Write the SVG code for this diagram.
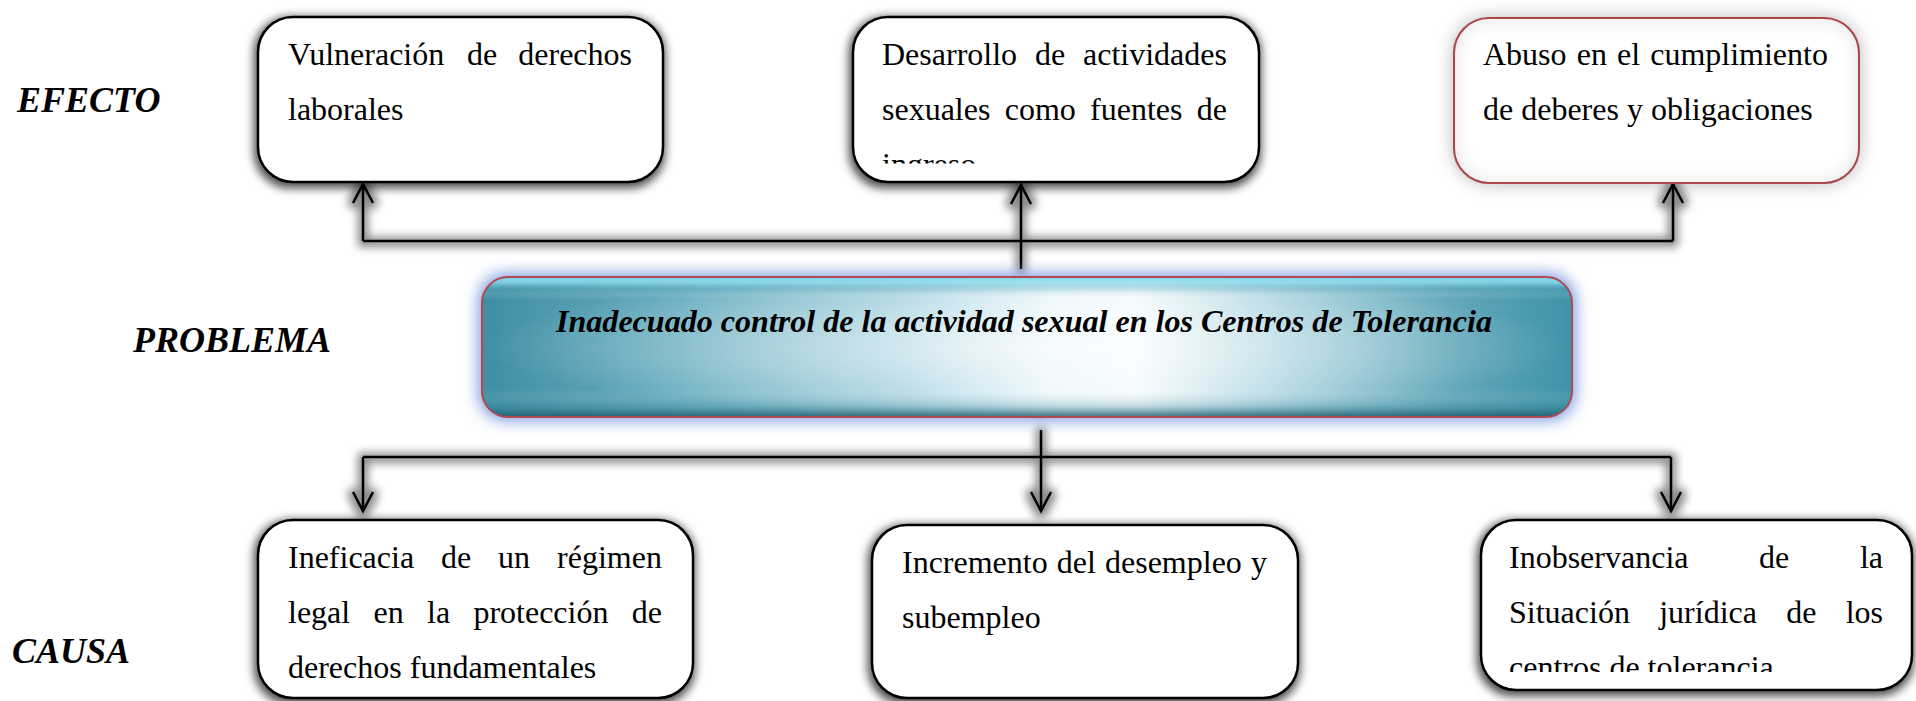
<svg xmlns="http://www.w3.org/2000/svg" width="1916" height="701" viewBox="0 0 1916 701">
<defs>
<style>
.lbl{font-family:"Liberation Serif","Times New Roman",serif;font-weight:bold;font-style:italic;font-size:36px;fill:#000}
.txt{font-family:"Liberation Serif","Times New Roman",serif;font-size:32px;fill:#000}
.ptxt{font-family:"Liberation Serif","Times New Roman",serif;font-weight:bold;font-style:italic;font-size:32px;fill:#000}
.box{fill:#fff;stroke:#000;stroke-width:2.5}
.conn{fill:none;stroke:#000;stroke-width:2.5}
</style>
<filter id="sh" x="-20%" y="-30%" width="140%" height="160%">
<feMorphology in="SourceAlpha" operator="dilate" radius="2" result="d"/>
<feGaussianBlur in="d" stdDeviation="5" result="b"/>
<feOffset in="b" dx="-1" dy="3" result="o"/>
<feFlood flood-color="#000" flood-opacity="0.7"/>
<feComposite in2="o" operator="in" result="s"/>
<feMerge><feMergeNode in="s"/><feMergeNode in="SourceGraphic"/></feMerge>
</filter>
<filter id="lsh" x="-20%" y="-20%" width="140%" height="140%">
<feMorphology in="SourceAlpha" operator="dilate" radius="4" result="d"/>
<feGaussianBlur in="d" stdDeviation="4" result="b"/>
<feOffset in="b" dx="0" dy="1" result="o"/>
<feFlood flood-color="#000" flood-opacity="0.45"/>
<feComposite in2="o" operator="in" result="s"/>
<feMerge><feMergeNode in="s"/><feMergeNode in="SourceGraphic"/></feMerge>
</filter>
<filter id="soft" x="-20%" y="-30%" width="140%" height="160%">
<feDropShadow dx="0" dy="0" stdDeviation="9" flood-color="#000" flood-opacity="0.3"/>
</filter>
<filter id="inner" x="-5%" y="-5%" width="110%" height="110%">
<feFlood flood-color="#000" flood-opacity="0.3" result="f"/>
<feComposite in="f" in2="SourceAlpha" operator="out" result="o"/>
<feGaussianBlur in="o" stdDeviation="9" result="b"/>
<feComposite in="b" in2="SourceAlpha" operator="in" result="i"/>
<feMerge><feMergeNode in="SourceGraphic"/><feMergeNode in="i"/></feMerge>
</filter>
<filter id="glow" x="-5%" y="-30%" width="110%" height="160%">
<feMorphology in="SourceAlpha" operator="dilate" radius="3" result="d"/>
<feGaussianBlur in="d" stdDeviation="8" result="b"/>
<feFlood flood-color="#7595dc" flood-opacity="1"/>
<feComposite in2="b" operator="in" result="g"/>
<feMerge><feMergeNode in="g"/><feMergeNode in="SourceGraphic"/></feMerge>
</filter>
<linearGradient id="ph" x1="0" y1="0" x2="1" y2="0">
<stop offset="0" stop-color="#3f8ea4"/>
<stop offset="0.18" stop-color="#6aaec0"/>
<stop offset="0.38" stop-color="#a9d3df"/>
<stop offset="0.52" stop-color="#eaf7fb"/>
<stop offset="0.6" stop-color="#f4fbfe"/>
<stop offset="0.75" stop-color="#a7d1dd"/>
<stop offset="0.9" stop-color="#5fa6b9"/>
<stop offset="1" stop-color="#3f93a9"/>
</linearGradient>
<linearGradient id="pv" x1="0" y1="0" x2="0" y2="1">
<stop offset="0" stop-color="#7fd6ea" stop-opacity="1"/>
<stop offset="0.04" stop-color="#8fdcee" stop-opacity="0.8"/>
<stop offset="0.09" stop-color="#5aa9bd" stop-opacity="0.3"/>
<stop offset="0.16" stop-color="#ffffff" stop-opacity="0"/>
<stop offset="0.8" stop-color="#ffffff" stop-opacity="0"/>
<stop offset="0.92" stop-color="#2f7c90" stop-opacity="0.25"/>
<stop offset="1" stop-color="#1c5566" stop-opacity="0.85"/>
</linearGradient>
<radialGradient id="pr" cx="0.5" cy="0.5" r="0.5">
<stop offset="0" stop-color="#ffffff" stop-opacity="0.85"/>
<stop offset="1" stop-color="#ffffff" stop-opacity="0"/>
</radialGradient>
<clipPath id="c2"><rect x="850" y="0" width="420" height="163.5"/></clipPath>
<clipPath id="c6"><rect x="1480" y="500" width="436" height="172"/></clipPath>
<marker id="arr" viewBox="0 0 24 24" refX="21" refY="12" markerWidth="24" markerHeight="24" markerUnits="userSpaceOnUse" orient="auto">
<path d="M2,2 L21,12 L2,22" fill="none" stroke="#000" stroke-width="2.5"/>
</marker>
</defs>
<rect width="1916" height="701" fill="#fff"/>

<g id="labels">
<text class="lbl" x="17" y="112">EFECTO</text>
<text class="lbl" x="133" y="352">PROBLEMA</text>
<text class="lbl" x="12" y="663">CAUSA</text>
</g>

<g id="connectors" filter="url(#lsh)">
<path class="conn" d="M363,241 H1673"/>
<path class="conn" d="M363,241 V184" marker-end="url(#arr)"/>
<path class="conn" d="M1673,241 V184" marker-end="url(#arr)"/>
<path class="conn" d="M1021,269 V185" marker-end="url(#arr)"/>
<path class="conn" d="M363,457 H1671"/>
<path class="conn" d="M363,457 V511" marker-end="url(#arr)"/>
<path class="conn" d="M1671,457 V511" marker-end="url(#arr)"/>
<path class="conn" d="M1041,430 V511" marker-end="url(#arr)"/>
</g>

<g id="effect1">
<rect class="box" x="258" y="17" width="405" height="165" rx="35" filter="url(#sh)"/>
<text class="txt" y="65"><tspan x="288">Vulneración</tspan><tspan x="467">de</tspan><tspan x="518.3">derechos</tspan></text>
<text class="txt" x="288" y="120">laborales</text>
</g>

<g id="effect2">
<rect class="box" x="853" y="17" width="406" height="165" rx="35" filter="url(#sh)"/>
<text class="txt" y="65"><tspan x="882">Desarrollo</tspan><tspan x="1035">de</tspan><tspan x="1083">actividades</tspan></text>
<text class="txt" y="120"><tspan x="882">sexuales</tspan><tspan x="1004.7">como</tspan><tspan x="1090.1">fuentes</tspan><tspan x="1196.8">de</tspan></text>
<text class="txt" x="882" y="175" clip-path="url(#c2)">ingreso</text>
</g>

<g id="effect3">
<rect x="1454" y="18" width="405" height="165" rx="35" fill="#fff" filter="url(#soft)"/>
<rect x="1454" y="18" width="405" height="165" rx="35" fill="#fff" filter="url(#inner)"/>
<rect x="1454" y="18" width="405" height="165" rx="35" fill="none" stroke="#a9474a" stroke-width="2"/>
<text class="txt" y="65"><tspan x="1483">Abuso</tspan><tspan x="1576.7">en</tspan><tspan x="1617">el</tspan><tspan x="1650.2">cumplimiento</tspan></text>
<text class="txt" x="1483" y="120">de deberes y obligaciones</text>
</g>

<g id="problem">
<g filter="url(#glow)">
<rect x="482" y="277" width="1090" height="140" rx="26" fill="url(#ph)"/>
</g>
<rect x="482" y="277" width="1090" height="140" rx="26" fill="url(#pr)" opacity="0.7"/>
<rect x="482" y="277" width="1090" height="140" rx="26" fill="url(#pv)"/>
<rect x="482" y="277" width="1090" height="140" rx="26" fill="none" stroke="#b04a50" stroke-width="2"/>
<text class="ptxt" x="556" y="332" textLength="936" lengthAdjust="spacingAndGlyphs">Inadecuado control de la actividad sexual en los Centros de Tolerancia</text>
</g>

<g id="cause1">
<rect class="box" x="258" y="520" width="435" height="178" rx="35" filter="url(#sh)"/>
<text class="txt" y="568"><tspan x="288">Ineficacia</tspan><tspan x="441">de</tspan><tspan x="498.1">un</tspan><tspan x="557.1">régimen</tspan></text>
<text class="txt" y="623"><tspan x="288">legal</tspan><tspan x="373.5">en</tspan><tspan x="427">la</tspan><tspan x="473.4">protección</tspan><tspan x="631.8">de</tspan></text>
<text class="txt" x="288" y="678">derechos fundamentales</text>
</g>

<g id="cause2">
<rect class="box" x="872" y="525" width="426" height="173" rx="35" filter="url(#sh)"/>
<text class="txt" y="573"><tspan x="902">Incremento</tspan><tspan x="1056.8">del</tspan><tspan x="1105">desempleo</tspan><tspan x="1251">y</tspan></text>
<text class="txt" x="902" y="628">subempleo</text>
</g>

<g id="cause3">
<rect class="box" x="1481" y="520" width="431" height="170" rx="35" filter="url(#sh)"/>
<text class="txt" y="568"><tspan x="1509">Inobservancia</tspan><tspan x="1759.1">de</tspan><tspan x="1859.9">la</tspan></text>
<text class="txt" y="623"><tspan x="1509">Situación</tspan><tspan x="1659.2">jurídica</tspan><tspan x="1786.3">de</tspan><tspan x="1845.7">los</tspan></text>
<text class="txt" x="1509" y="678" clip-path="url(#c6)">centros de tolerancia</text>
</g>
</svg>
